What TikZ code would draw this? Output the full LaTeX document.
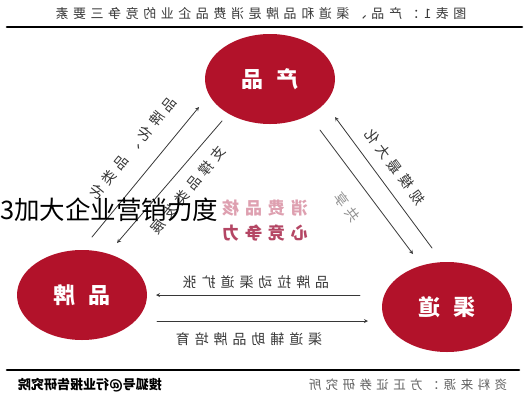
\documentclass[tikz,border=0pt]{standalone}
\usepackage{fontspec}
\newfontfamily\cjk{Noto Sans CJK SC}
\newfontfamily\cjksp[LetterSpace=35]{Noto Sans CJK SC}
\usetikzlibrary{shapes.geometric}
\definecolor{brandred}{RGB}{178,18,42}
\definecolor{inkgray}{RGB}{55,55,55}
\definecolor{pinkA}{RGB}{222,160,176}
\definecolor{pinkB}{RGB}{180,70,100}
\tikzset{
  elip/.style={ellipse, fill=brandred, text=white, minimum width=130, minimum height=90, inner sep=0,
    font=\cjk\bfseries\fontsize{22}{24}\selectfont},
  arr/.style={draw=inkgray, line width=0.8pt},
  lab/.style={text=inkgray, inner sep=0, font=\cjksp\fontsize{14}{16}\selectfont},
}
\begin{document}
\begin{tikzpicture}[x=1pt, y=-1pt, line join=round, line cap=round, >=stealth]
\useasboundingbox (0,0) rectangle (525,400);
%Tieu de va duong ke
\node[lab, xscale=-1, font=\cjksp\fontsize{13}{15}\selectfont] (title) at (261,14) {图表1：产品、渠道和品牌是消费品企业的竞争三要素};
\draw[line width=2.6pt] (7,27)--(522,27) (7,370)--(519,370);
%Ve hinh elip
\foreach \x/\y/\n/\t in {270/79/product/产\hspace{0.55em}品, 82/295/brand/品\hspace{0.55em}牌, 447/307/channel/渠\hspace{0.55em}道}
\node[elip, xscale=-1] (\n) at (\x,\y) {\t};
%Diem dau mui ten
\coordinate (lo1) at (92,237); \coordinate (lo2) at (199,107);
\coordinate (li1) at (222,121); \coordinate (li2) at (117,243);
\coordinate (ro1) at (432,248); \coordinate (ro2) at (335,117);
\coordinate (ri1) at (320,130); \coordinate (ri2) at (413,254);
\coordinate (bu1) at (360,295); \coordinate (bu2) at (156,295);
\coordinate (bl1) at (157,321); \coordinate (bl2) at (368,321);
\draw[arr,->] (lo1)--(lo2);
\draw[arr,->] (li1)--(li2);
\draw[arr,->] (ro1)--(ro2);
\draw[arr,->] (ri1)--(ri2);
\draw[arr,->] (bu1)--(bu2);
\draw[arr,->] (bl1)--(bl2);
%Nhan tren mui ten
\node[lab, rotate=50.6, xscale=-1] (labA) at (133,148) {品牌化、品类化};
\node[lab, rotate=50.6, xscale=-1] (labB) at (188,190) {支撑品类发展};
\node[lab, rotate=-53.3, xscale=-1] (labC) at (395,167) {规模最大化};
\node[lab, rotate=-53.3, xscale=-1, text=inkgray!55] (labD) at (347,207) {共享};
\node[lab, xscale=-1] (labE) at (256,282) {品牌拉动渠道扩张};
\node[lab, xscale=-1] (labF) at (249,339) {渠道辅助品牌培育};
%Chu o giua
\node[lab, xscale=-1, text=pinkA, font=\cjksp\bfseries\fontsize{17}{19}\selectfont] (coreA) at (265,208) {消费品核};
\node[lab, xscale=-1, text=pinkB, font=\cjksp\bfseries\fontsize{17}{19}\selectfont] (coreB) at (265,233) {心竞争力};
%Nguon
\node[lab, xscale=-1, text=inkgray!80, font=\cjksp\fontsize{12.5}{14}\selectfont] (source) at (408,385) {资料来源：方正证券研究所};
\node[lab, xscale=-1, text=black, font=\cjk\bfseries\fontsize{13}{15}\selectfont] (mark) at (90,385) {搜狐号@行业报告研究院};
\node[inner sep=0, anchor=west, font=\cjk\fontsize{25.5}{28}\selectfont] (overlay) at (0,210) {3加大企业营销力度};
\end{tikzpicture}
\end{document}
